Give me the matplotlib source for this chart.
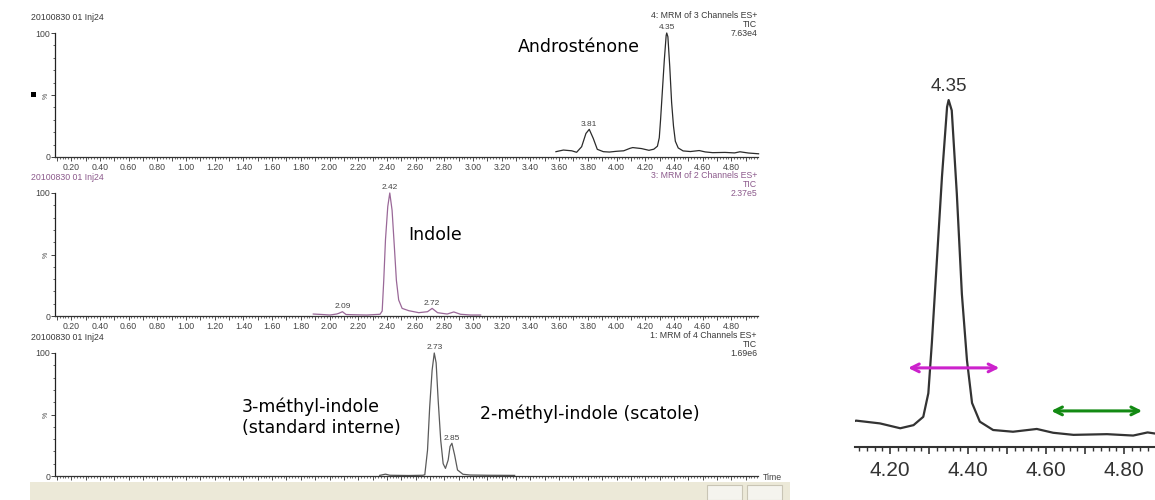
import matplotlib
matplotlib.use("Agg")
import numpy as np
import matplotlib.pyplot as plt
from matplotlib.patches import Rectangle
from matplotlib.ticker import MultipleLocator, FuncFormatter

W, H = 1155, 500

# --- traces (time in min, intensity in %) ---
ANDRO_T = [3.578, 3.63, 3.688, 3.722, 3.757, 3.787, 3.81, 3.838, 3.866, 3.908,
           3.95, 4.0, 4.05, 4.094, 4.113, 4.174, 4.226, 4.26, 4.285, 4.298,
           4.307, 4.32, 4.333, 4.346, 4.35, 4.358, 4.371, 4.384, 4.397, 4.41,
           4.43, 4.464, 4.515, 4.576, 4.618, 4.67, 4.756, 4.823, 4.86, 4.92, 4.99]
ANDRO_Y = [4.3, 5.6, 5.0, 3.8, 8.3, 19, 22.3, 15, 6.2, 4.3,
           4.0, 4.6, 5.0, 7.0, 7.6, 6.8, 5.4, 6.3, 8.7, 15.5,
           30, 54, 78, 98, 100, 97, 73, 44, 25, 12.7,
           7.3, 4.9, 4.4, 5.2, 4.1, 3.5, 3.7, 3.3, 4.2, 3.2, 2.6]

INDOLE_T = [1.887, 1.95, 2.003, 2.05, 2.065, 2.09, 2.115, 2.18, 2.26, 2.352,
            2.367, 2.378, 2.39, 2.406, 2.42, 2.436, 2.452, 2.466, 2.482, 2.506,
            2.553, 2.622, 2.683, 2.715, 2.753, 2.82, 2.866, 2.913, 2.983, 3.053]
INDOLE_Y = [1.6, 1.2, 0.8, 1.6, 2.2, 3.5, 1.2, 1.0, 0.8, 1.4,
            4.0, 29, 62, 89, 100, 86, 56, 29, 13, 6.2,
            4.3, 2.7, 3.5, 6.2, 2.7, 1.6, 3.3, 1.4, 0.8, 0.8]

SKATOLE_T = [2.35, 2.39, 2.42, 2.55, 2.65, 2.664, 2.683, 2.698, 2.715, 2.73,
             2.743, 2.757, 2.775, 2.792, 2.808, 2.827, 2.84, 2.853, 2.872, 2.892,
             2.93, 2.98, 3.1, 3.29]
SKATOLE_Y = [0.5, 1.5, 0.6, 0.4, 0.6, 1.0, 21, 56, 86, 100,
             92, 62, 29, 10, 6.2, 13, 24, 26.6, 17, 4.9,
             1.4, 0.8, 0.6, 0.5]

# peak labels (text, retention time)
ANDRO_PEAKS = [("3.81", 3.81), ("4.35", 4.35)]
INDOLE_PEAKS = [("2.09", 2.09), ("2.42", 2.42), ("2.72", 2.715)]
SKATOLE_PEAKS = [("2.73", 2.73), ("2.85", 2.853)]

RUN_NAME = "20100830 01 Inj24"
CHANNELS = ["4: MRM of 3 Channels ES+", "3: MRM of 2 Channels ES+",
            "1: MRM of 4 Channels ES+"]
SCALES = ["7.63e4", "2.37e5", "1.69e6"]

TRACE_COLORS = ["#2b2b2b", "#9a6898", "#5a5a5a"]
HEAD_COLORS = ["#3a3a3a", "#8c5a8c", "#3a3a3a"]
TICK_FONT = "Liberation Sans"
NOTE_FONT = "DejaVu Sans"

# pixel geometry of the three stacked chromatograms (top px, bottom px)
PANEL_ROWS = [(33, 157), (193, 316), (353, 476)]
AX_LEFT, AX_RIGHT = 55, 758
XLIM = (0.087, 4.986)


def fx(px):
    return px / W


def fy(py):
    return 1 - py / H


def time_fmt(v, _):
    return f"{v:.2f}" if abs(v * 5 - round(v * 5)) < 1e-6 else ""


fig = plt.figure(figsize=(W / 100, H / 100), dpi=100)
fig.patch.set_facecolor("white")

# window status bar strip at the bottom
fig.patches.append(Rectangle((fx(30), 0), fx(760), 18 / H, transform=fig.transFigure,
                             facecolor="#ece9d8", edgecolor="none", zorder=0))
for bx in (707, 747):
    fig.patches.append(Rectangle((fx(bx), 0), fx(35), 15 / H, transform=fig.transFigure,
                                 facecolor="#f5f4ee", edgecolor="#c9c5b5", lw=0.8, zorder=1))

traces = [(ANDRO_T, ANDRO_Y, ANDRO_PEAKS), (INDOLE_T, INDOLE_Y, INDOLE_PEAKS),
          (SKATOLE_T, SKATOLE_Y, SKATOLE_PEAKS)]

for i, ((top, bot), (t, y, peaks)) in enumerate(zip(PANEL_ROWS, traces)):
    ax = fig.add_axes([fx(AX_LEFT), fy(bot), fx(AX_RIGHT - AX_LEFT), (bot - top) / H])
    ax.patch.set_alpha(0)
    ax.plot(t, y, color=TRACE_COLORS[i], lw=0.9, clip_on=False)
    for lab, pt in peaks:
        ax.annotate(lab, (pt, np.interp(pt, t, y)), xytext=(0, 1.2),
                    textcoords="offset points", ha="center", va="bottom",
                    fontsize=6, color="#444444", family=TICK_FONT)
    ax.set_xlim(*XLIM)
    ax.set_ylim(0, 100)
    for s in ("top", "right"):
        ax.spines[s].set_visible(False)
    ax.spines["left"].set_linewidth(0.9)
    ax.spines["bottom"].set_linewidth(0.9)
    ax.spines["left"].set_color("#222222")
    ax.spines["bottom"].set_color("#333333")

    ax.xaxis.set_major_locator(MultipleLocator(0.1))
    ax.xaxis.set_minor_locator(MultipleLocator(0.02))
    ax.xaxis.set_major_formatter(FuncFormatter(time_fmt))
    ax.tick_params(axis="x", which="major", length=3, width=0.6, pad=1,
                   labelsize=6.3, labelcolor="#444444", color="#333333")
    ax.tick_params(axis="x", which="minor", length=1.6, width=0.5, color="#333333")

    ax.set_yticks([0, 50, 100])
    ax.set_yticklabels(["0", "%", "100"])
    ax.yaxis.set_minor_locator(MultipleLocator(10))
    ax.tick_params(axis="y", which="major", length=3, width=0.6, pad=0.5,
                   labelsize=6.3, labelcolor="#444444", color="#222222")
    ax.tick_params(axis="y", which="minor", length=1.5, width=0.5, color="#222222")
    ax.get_yticklabels()[1].set_rotation(90)
    ax.get_yticklabels()[1].set_fontsize(5)
    for lbl in ax.get_xticklabels() + ax.get_yticklabels():
        lbl.set_family(TICK_FONT)

    # run header, channel description
    fig.text(fx(31), fy(top - 16), RUN_NAME, fontsize=6.3, color=HEAD_COLORS[i],
             family=TICK_FONT, ha="left", va="center")
    for k, txt in enumerate([CHANNELS[i], "TIC", SCALES[i]]):
        fig.text(fx(757), fy(top - 17.5 + 9 * k), txt, fontsize=6.3,
                 color=HEAD_COLORS[i], family=TICK_FONT, ha="right", va="center")

    if i == 0:
        ax.text(3.74, 88.7, "Androsténone", fontsize=12.5, family=NOTE_FONT,
                ha="center", va="center", color="black")
    elif i == 1:
        ax.text(2.735, 65.9, "Indole", fontsize=12.5, family=NOTE_FONT,
                ha="center", va="center", color="black")
    else:
        ax.text(1.39, 56, "3-méthyl-indole", fontsize=12.5, family=NOTE_FONT,
                ha="left", va="center", color="black")
        ax.text(1.39, 39, "(standard interne)", fontsize=12.5, family=NOTE_FONT,
                ha="left", va="center", color="black")
        ax.text(3.049, 51, "2-méthyl-indole (scatole)", fontsize=12.5,
                family=NOTE_FONT, ha="left", va="center", color="black")

fig.text(fx(763), fy(477), "Time", fontsize=6.3, color="#444444",
         family=TICK_FONT, ha="left", va="center")
# small selection square on the left margin
fig.patches.append(Rectangle((fx(31), fy(96.5)), 5 / W, 5 / H, transform=fig.transFigure,
                             facecolor="black", edgecolor="none"))

# --- zoom on the androstenone peak ---
axz = fig.add_axes([fx(855), fy(447), fx(300), (447 - 58.4) / H])
axz.patch.set_alpha(0)
axz.plot(ANDRO_T, ANDRO_Y, color="#333333", lw=1.6)
axz.set_xlim(4.110, 4.879)
axz.set_ylim(0, 112)
for s in ("top", "right", "left"):
    axz.spines[s].set_visible(False)
axz.spines["bottom"].set_linewidth(1.5)
axz.spines["bottom"].set_color("#333333")
axz.set_yticks([])
axz.xaxis.set_major_locator(MultipleLocator(0.1))
axz.xaxis.set_minor_locator(MultipleLocator(0.02))
axz.xaxis.set_major_formatter(FuncFormatter(time_fmt))
axz.tick_params(axis="x", which="major", length=5, width=1.2, pad=5,
                labelsize=15, labelcolor="#333333", color="#333333")
axz.tick_params(axis="x", which="minor", length=3, width=1.0, color="#333333")
for lbl in axz.get_xticklabels():
    lbl.set_family(TICK_FONT)
axz.annotate("4.35", (4.35, 100), xytext=(0, 3.5), textcoords="offset points",
             ha="center", va="bottom", fontsize=13.5, color="#333333", family=TICK_FONT)
axz.annotate("", xy=(4.48, 22.8), xytext=(4.246, 22.8),
             arrowprops=dict(arrowstyle="<->", color="#cc22cc", lw=2.2,
                             mutation_scale=14, shrinkA=0, shrinkB=0))
axz.annotate("", xy=(4.846, 10.4), xytext=(4.613, 10.4),
             arrowprops=dict(arrowstyle="<->", color="#138a13", lw=2.2,
                             mutation_scale=14, shrinkA=0, shrinkB=0))

fig.savefig("out.png", dpi=100)
